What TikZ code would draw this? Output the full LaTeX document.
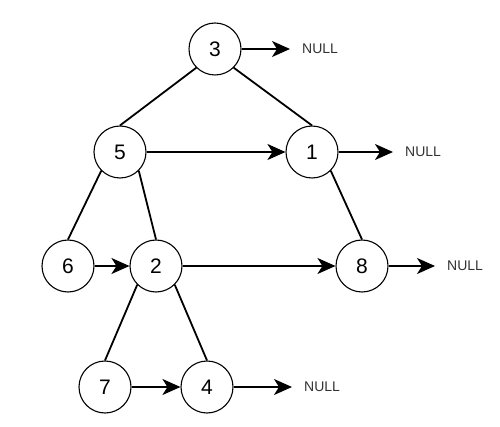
\documentclass[tikz,border=0pt]{standalone}
\usepackage{fontspec}
\setmainfont{Liberation Sans}
\usetikzlibrary{arrows.meta}

\begin{document}
\begin{tikzpicture}[x=1pt,y=-1pt,
    vert/.style={circle,draw,line width=1.1pt,minimum size=52pt,inner sep=0pt,font=\fontsize{21}{21}\selectfont},
    nul/.style={anchor=west,inner sep=0pt,inner xsep=12pt,text=black!80,font=\fontsize{14}{14}\selectfont},
    edge/.style={line width=1.8pt},
    nxt/.style={line width=1.8pt,-{Stealth[length=18pt,width=16pt,inset=5pt]}}]
      \useasboundingbox (0,0) rectangle (500,427);
      % tree nodes
      \node[vert] (n3) at (215,49) {3};
      \node[vert] (n5) at (120,152) {5};
      \node[vert] (n1) at (312,152) {1};
      \node[vert] (n6) at (68,266) {6};
      \node[vert] (n2) at (156,266) {2};
      \node[vert] (n8) at (362,266) {8};
      \node[vert] (n7) at (105,387) {7};
      \node[vert] (n4) at (207,387) {4};
      % null labels
      \node[nul] (null3) at (290,49) {NULL};
      \node[nul] (null1) at (393,152) {NULL};
      \node[nul] (null8) at (435,266) {NULL};
      \node[nul] (null4) at (292,387) {NULL};
      % child links
      \draw[edge] (n3.south west) -- (n5.north);
      \draw[edge] (n3.south east) -- (n1.north);
      \draw[edge] (n5.south west) -- (n6.north);
      \draw[edge] (n5.south east) -- (n2.north);
      \draw[edge] (n1.south east) -- (n8.north);
      \draw[edge] (n2.south west) -- (n7.north);
      \draw[edge] (n2.south east) -- (n4.north);
      % next pointers
      \draw[nxt] (n3) -- (null3);
      \draw[nxt] (n5) -- (n1);
      \draw[nxt] (n1) -- (null1);
      \draw[nxt] (n6) -- (n2);
      \draw[nxt] (n2) -- (n8);
      \draw[nxt] (n8) -- (null8);
      \draw[nxt] (n7) -- (n4);
      \draw[nxt] (n4) -- (null4);
\end{tikzpicture}
\end{document}
